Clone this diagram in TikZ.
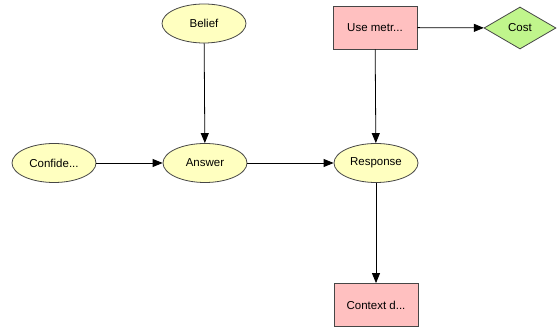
\documentclass[tikz,border=0pt]{standalone}
\usepackage{fontspec}
\setmainfont{Liberation Sans}
\usetikzlibrary{shapes.geometric,arrows.meta}
\definecolor{chancefill}{RGB}{255,255,192}
\definecolor{decisionfill}{RGB}{255,192,192}
\definecolor{utilityfill}{RGB}{192,245,140}
\definecolor{outline}{RGB}{70,70,70}
\tikzset{
  chance/.style={ellipse, draw=outline, fill=chancefill, line width=0.8pt,
    minimum width=84pt, minimum height=39pt, inner sep=0pt},
  decision/.style={rectangle, draw=outline, fill=decisionfill, line width=0.8pt,
    minimum width=84pt, minimum height=43pt, inner sep=0pt},
  utility/.style={diamond, draw=outline, fill=utilityfill, line width=0.8pt,
    minimum width=72pt, minimum height=42pt, inner sep=0pt},
  link/.style={draw=black, line width=0.8pt,
    -{Triangle[length=10pt,width=8pt]}},
  every node/.style={font=\fontsize{11.5pt}{13pt}\selectfont}
}
\begin{document}
\begin{tikzpicture}[x=1pt,y=-1pt]
  \useasboundingbox (0,0) rectangle (557,328);
  \fill[white] (0,0) rectangle (557,328);

  \node[chance]   (belief)   at (204,23.5) {Belief};
  \node[decision] (usemetr)  at (375,27.5) {Use metr...};
  \node[utility]  (cost)     at (520,28)   {Cost};
  \node[chance]   (confide)  at (54,163)   {Confide...};
  \node[chance]   (answer)   at (205,163)  {Answer};
  \node[chance]   (response) at (376,163)  {Response};
  \node[decision] (context)  at (376,305)  {Context d...};

  \draw[link] (belief) -- (answer);
  \draw[link] (confide) -- (answer);
  \draw[link] (answer) -- (response);
  \draw[link] (usemetr) -- (response);
  \draw[link] (response) -- (context);
  \draw[link] (usemetr) -- (cost);
\end{tikzpicture}
\end{document}
